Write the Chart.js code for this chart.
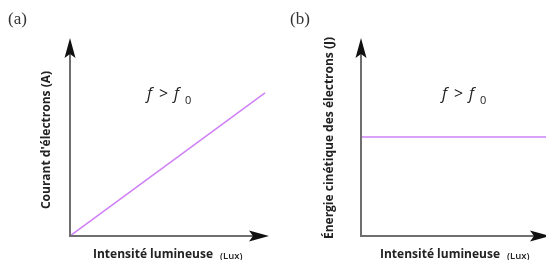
<!DOCTYPE html>
<html>
<head>
<meta charset="utf-8">
<script src="https://cdn.jsdelivr.net/npm/chart.js@4"></script>
<style>
  html, body { margin: 0; padding: 0; background: #fff; }
  body { width: 546px; height: 260px; position: relative; overflow: hidden; }
  .panneau { position: absolute; top: 0; height: 260px; }
  #a { left: 0; width: 280px; }
  #b { left: 280px; width: 280px; }
</style>
</head>
<body>
<div class="panneau" id="a"><canvas id="chartA"></canvas></div>
<div class="panneau" id="b"><canvas id="chartB"></canvas></div>
<script>
// (a) courant en fonction de l'intensité
const intensiteA = [0, 9.8];
const courant = [0, 7.3];
// (b) énergie cinétique en fonction de l'intensité
const intensiteB = [0, 10];
const energie = [5.05, 5.05];

const titresA = { lettre: '(a)', y: "Courant d'électrons (A)", x: 'Intensité lumineuse', unite: '(Lux)' };
const titresB = { lettre: '(b)', y: 'Énergie cinétique des électrons (J)', x: 'Intensité lumineuse', unite: '(Lux)' };

const violet = '#cf80f5';
const police = "'Open Sans', sans-serif";

// pointe de flèche noire, un peu creusée à la base
function pointe(ctx, x, y, dir) {
    ctx.save();
    ctx.translate(x, y);
    ctx.rotate(dir);
    ctx.beginPath();
    ctx.moveTo(0, 0);
    ctx.lineTo(-20, -5.5);
    ctx.lineTo(-16, 0);
    ctx.lineTo(-20, 5.5);
    ctx.closePath();
    ctx.fillStyle = '#111';
    ctx.fill();
    ctx.restore();
}

const axesFleches = {
    id: 'axesFleches',
    afterDraw(chart, args, opts) {
        const ctx = chart.ctx;
        const a = chart.chartArea;
        ctx.save();
        // axes
        ctx.strokeStyle = '#6f6f6f';
        ctx.lineWidth = 2;
        ctx.beginPath();
        ctx.moveTo(a.left, a.top + 10);
        ctx.lineTo(a.left, a.bottom);
        ctx.lineTo(a.right - 10, a.bottom);
        ctx.stroke();
        pointe(ctx, a.left, a.top - 2, -Math.PI / 2);
        pointe(ctx, a.right, a.bottom, 0);

        // lettre du panneau
        ctx.fillStyle = '#333';
        ctx.font = "17px 'Liberation Serif', serif";
        ctx.textBaseline = 'alphabetic';
        ctx.textAlign = 'left';
        ctx.fillText(opts.lettre, opts.lettreX, 24);

        // f > f0
        ctx.fillStyle = '#222';
        ctx.font = 'italic 16px ' + police;
        ctx.fillText('f', opts.fx, 99);
        ctx.font = '16px ' + police;
        ctx.fillText('>', opts.fx + 12, 99);
        ctx.font = 'italic 16px ' + police;
        ctx.fillText('f', opts.fx + 27, 99);
        ctx.font = '11px ' + police;
        ctx.fillText('0', opts.fx + 38, 104);

        // titre de l'axe y
        ctx.save();
        ctx.translate(opts.yTitreX, opts.yTitreY);
        ctx.rotate(-Math.PI / 2);
        ctx.textAlign = 'center';
        ctx.textBaseline = 'middle';
        ctx.font = 'bold 12px ' + police;
        ctx.fillStyle = '#222';
        ctx.fillText(opts.y, 0, 0);
        ctx.restore();

        // titre de l'axe x
        ctx.textBaseline = 'middle';
        ctx.textAlign = 'left';
        ctx.font = 'bold 12px ' + police;
        ctx.fillStyle = '#222';
        ctx.fillText(opts.x, opts.xTitreX, 255);
        const w = ctx.measureText(opts.x).width;
        ctx.font = '600 9.5px ' + police;
        ctx.fillText(opts.unite, opts.xTitreX + w + 7, 256);
        ctx.restore();
    }
};

function graphe(id, xs, ys, titres, place, padding) {
    return new Chart(document.getElementById(id), {
        type: 'line',
        data: {
            datasets: [{
                data: xs.map((x, i) => ({ x: x, y: ys[i] })),
                borderColor: violet,
                borderWidth: 1.5,
                pointRadius: 0,
                tension: 0
            }]
        },
        options: {
            responsive: true,
            maintainAspectRatio: false,
            animation: false,
            layout: { padding: padding },
            scales: {
                x: { type: 'linear', min: 0, max: 10, display: false },
                y: { type: 'linear', min: 0, max: 10, display: false }
            },
            plugins: {
                legend: { display: false },
                tooltip: { enabled: false },
                axesFleches: Object.assign({}, titres, place)
            }
        },
        plugins: [axesFleches]
    });
}

graphe('chartA', intensiteA, courant, titresA,
    { lettreX: 8, fx: 147, yTitreX: 47, yTitreY: 140, xTitreX: 93 },
    { left: 70, top: 40, right: 11, bottom: 24 });

graphe('chartB', intensiteB, energie, titresB,
    { lettreX: 10, fx: 162, yTitreX: 50, yTitreY: 138, xTitreX: 100 },
    { left: 81, top: 40, right: 10, bottom: 24 });
</script>
</body>
</html>
